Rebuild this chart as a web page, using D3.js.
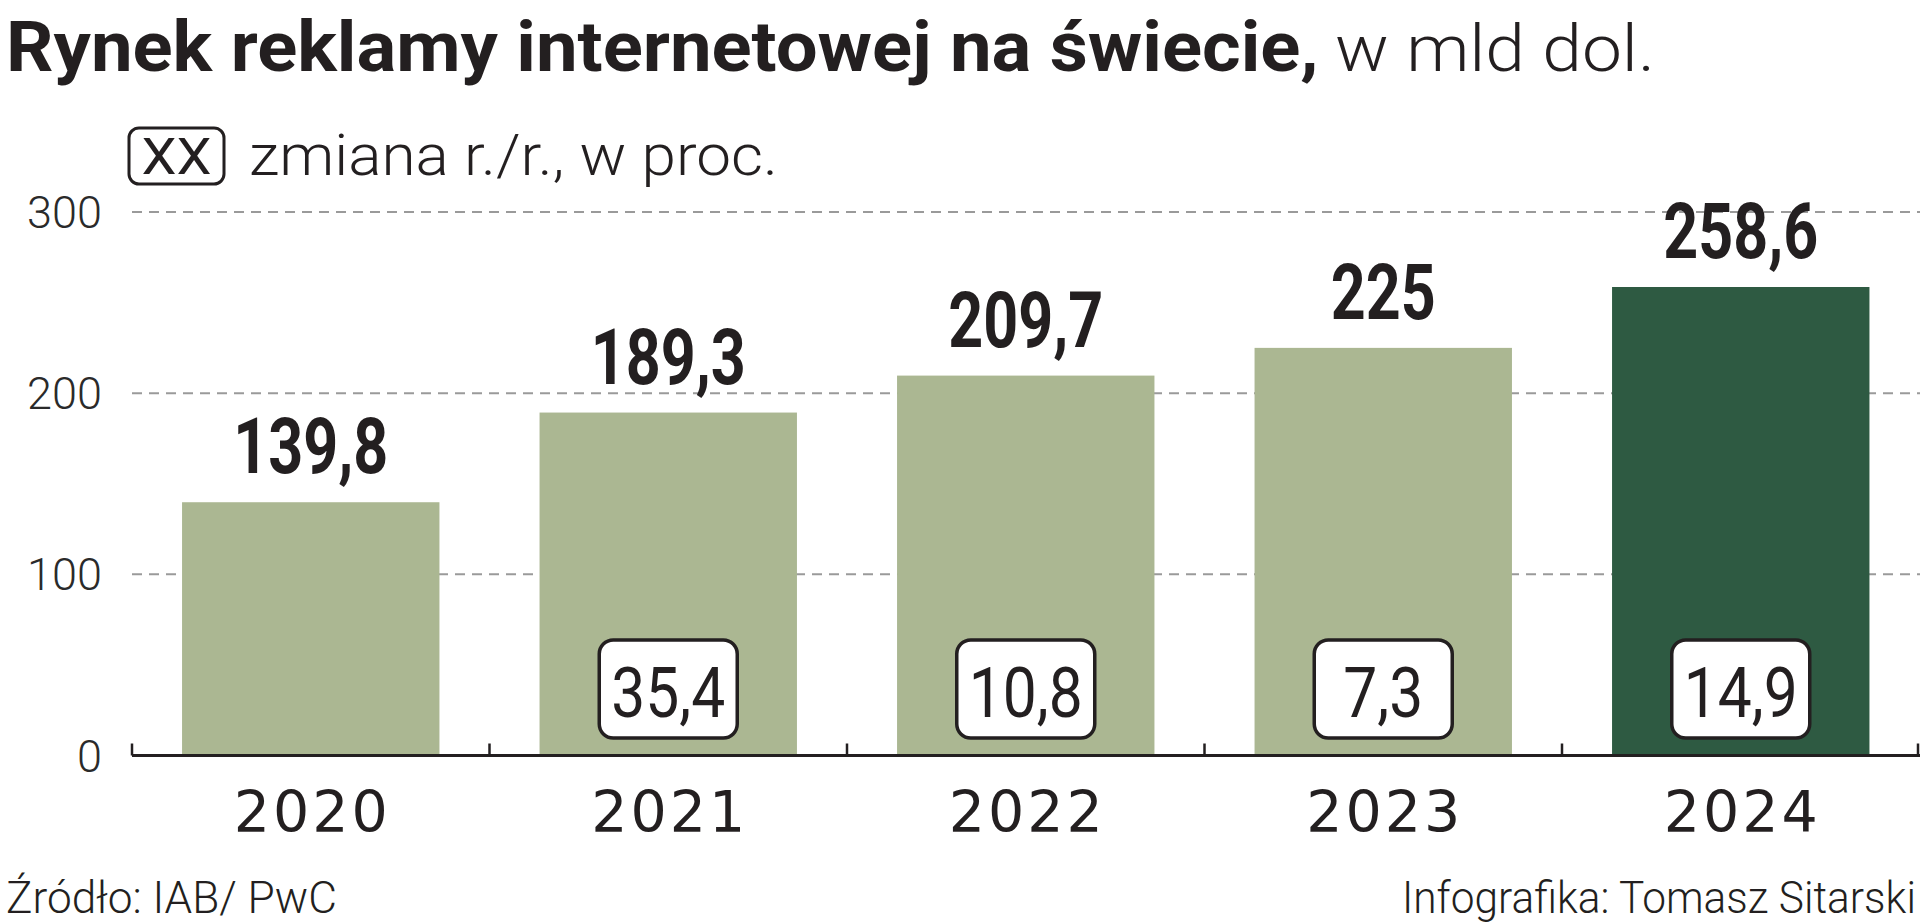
<!DOCTYPE html>
<html><head><meta charset="utf-8">
<script src="https://cdn.jsdelivr.net/npm/d3@7/dist/d3.min.js"></script>
<style>body{margin:0;background:#fff}svg{display:block}</style>
</head><body>
<svg id="chart" width="1920" height="924"></svg>
<script>
const years = ["2020", "2021", "2022", "2023", "2024"];
const values = [139.8, 189.3, 209.7, 225, 258.6];
const valueLabels = ["139,8", "189,3", "209,7", "225", "258,6"];
const changeLabels = [null, "35,4", "10,8", "7,3", "14,9"];
const yTicks = [0, 100, 200, 300];
const gridTicks = [100, 200, 300];
const titleBold = "Rynek reklamy internetowej na świecie,";
const titleLight = "w mld dol.";
const legendText = "zmiana r./r., w proc.";
const legendKey = "XX";
const sourceText = "Źródło: IAB/ PwC";
const creditText = "Infografika: Tomasz Sitarski";

const INK = "#231f20";
const LIGHT = "#abb792";
const DARK = "#2e5a42";
const SANS = "Roboto, 'Open Sans', sans-serif";

const svg = d3.select("#chart");
const baseY = 755.5;

const x = d3.scaleBand().domain(years).range([132, 1919.5]).paddingInner(0.28).paddingOuter(0.14);
const y = d3.scaleLinear().domain([0, 300]).range([baseY, 212]);

// squeeze a text element horizontally to a target width, anchored at (px,py)
function squeeze(node, px, py, targetW) {
  const w = node.getComputedTextLength();
  const f = targetW / w;
  d3.select(node).attr("x", 0).attr("y", 0)
    .attr("transform", `translate(${px},${py}) scale(${f},1)`);
  return f;
}

// grid
svg.append("g").selectAll("line").data(gridTicks).join("line")
  .attr("x1", 132).attr("x2", 1920)
  .attr("y1", d => y(d)).attr("y2", d => y(d))
  .attr("stroke", "#9a9a9a").attr("stroke-width", 2).attr("stroke-dasharray", "10,7");

// y tick labels
svg.append("g").selectAll("text").data(yTicks).join("text")
  .attr("x", 102).attr("y", d => y(d) + 16)
  .attr("text-anchor", "end")
  .attr("font-family", SANS).attr("font-weight", 300).attr("font-size", 45)
  .attr("fill", "#2a2a2a").text(d => d);

// bars
const data = years.map((yr, i) => ({yr, v: values[i], lab: valueLabels[i], ch: changeLabels[i], i}));
svg.append("g").selectAll("rect").data(data).join("rect")
  .attr("x", d => x(d.yr)).attr("width", x.bandwidth())
  .attr("y", d => y(d.v)).attr("height", d => baseY - y(d.v))
  .attr("fill", d => d.i === years.length - 1 ? DARK : LIGHT);

// axis line + ticks at band boundaries
const gap = x.step() - x.bandwidth();
const bounds = years.map(yr => x(yr) - gap / 2).concat([x(years[years.length - 1]) + x.bandwidth() + gap / 2]);
svg.append("line").attr("x1", 132).attr("x2", 1920).attr("y1", baseY).attr("y2", baseY)
  .attr("stroke", INK).attr("stroke-width", 3);
svg.append("g").selectAll("line").data(bounds).join("line")
  .attr("x1", d => Math.min(d, 1918)).attr("x2", d => Math.min(d, 1918))
  .attr("y1", baseY).attr("y2", baseY - 12)
  .attr("stroke", INK).attr("stroke-width", 2.5);

// value labels (bold, condensed)
const vl = svg.append("g").selectAll("text").data(data).join("text")
  .attr("text-anchor", "middle")
  .attr("font-family", SANS).attr("font-weight", 700).attr("font-size", 77)
  .attr("fill", INK).text(d => d.lab);
let vf = null;
vl.each(function (d) {
  if (vf === null) vf = 155 / this.getComputedTextLength();
  d3.select(this).attr("transform", `translate(${x(d.yr) + x.bandwidth() / 2},${y(d.v) - 29}) scale(${vf},1)`);
});

// change boxes
const ch = svg.append("g").selectAll("g").data(data.filter(d => d.ch)).join("g")
  .attr("transform", d => `translate(${x(d.yr) + x.bandwidth() / 2},0)`);
ch.append("rect").attr("x", -69).attr("y", 640).attr("width", 138).attr("height", 98)
  .attr("rx", 14).attr("fill", "#fff").attr("stroke", INK).attr("stroke-width", 3.5);
const ct = ch.append("text").attr("text-anchor", "middle")
  .attr("font-family", SANS).attr("font-weight", 400).attr("font-size", 70).attr("fill", INK).text(d => d.ch);
let cf = null;
ct.each(function () {
  if (cf === null) cf = 114 / this.getComputedTextLength();
  d3.select(this).attr("transform", `translate(0,717) scale(${cf},1)`);
});

// x labels
svg.append("g").selectAll("text").data(years).join("text")
  .attr("x", d => x(d) + x.bandwidth() / 2 + 1.5).attr("y", 832)
  .attr("text-anchor", "middle")
  .attr("font-family", "'DejaVu Sans', sans-serif").attr("font-size", 57).attr("letter-spacing", 3)
  .attr("fill", INK).text(d => d);

// title
const tb = svg.append("text").attr("font-family", SANS).attr("font-weight", 700).attr("font-size", 70)
  .attr("fill", INK).text(titleBold);
squeeze(tb.node(), 6, 71, 1313);
const tl = svg.append("text").attr("font-family", SANS).attr("font-weight", 300).attr("font-size", 65)
  .attr("fill", INK).text(titleLight);
squeeze(tl.node(), 1335, 71, 320);

// legend
svg.append("rect").attr("x", 129).attr("y", 128).attr("width", 95).attr("height", 56)
  .attr("rx", 10).attr("fill", "#fff").attr("stroke", INK).attr("stroke-width", 3);
const lk = svg.append("text").attr("text-anchor", "middle")
  .attr("font-family", SANS).attr("font-weight", 400).attr("font-size", 50).attr("fill", INK).text(legendKey);
squeeze(lk.node(), 176.5, 174, 70);
const lt = svg.append("text")
  .attr("font-family", SANS).attr("font-weight", 300).attr("font-size", 58).attr("fill", INK).text(legendText);
squeeze(lt.node(), 249, 175, 529);

// footer
const fs = svg.append("text").attr("font-family", SANS).attr("font-weight", 300).attr("font-size", 45)
  .attr("fill", INK).text(sourceText);
squeeze(fs.node(), 6, 913, 331);
const fc = svg.append("text").attr("font-family", SANS).attr("font-weight", 300).attr("font-size", 45)
  .attr("fill", INK).text(creditText);
squeeze(fc.node(), 1402, 913, 514);
</script>
</body></html>
